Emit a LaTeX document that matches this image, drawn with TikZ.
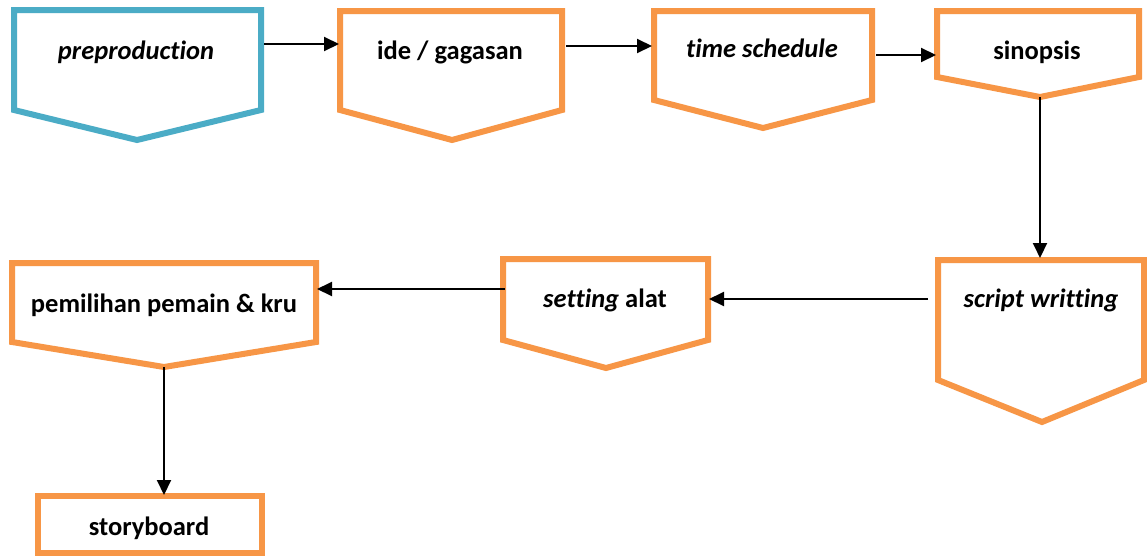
\documentclass[tikz,border=0pt]{standalone}
\usepackage{fontspec}
\setmainfont[RawFeature=-liga]{Carlito}
\usetikzlibrary{arrows.meta}
\definecolor{cblue}{HTML}{4BACC6}
\definecolor{corange}{HTML}{F79646}
\tikzset{
  box/.style={line width=6pt, line join=miter, draw=corange, fill=white},
  bluebox/.style={box, draw=cblue},
  lbl/.style={anchor=base, inner sep=0pt, font=\fontsize{26.5}{30}\selectfont\bfseries},
  conn/.style={line width=2pt, -{Triangle[length=15pt,width=14pt]}}
}
\begin{document}
\begin{tikzpicture}[x=1pt,y=-1pt]
\useasboundingbox (0,0) rectangle (1147,557);
% shapes
\draw[bluebox] (14,10) -- (261,10) -- (261,110) -- (137,140) -- (14,110) -- cycle;
\draw[box] (340,11) -- (562,11) -- (562,110) -- (452,140) -- (340,110) -- cycle;
\draw[box] (654,11) -- (872,11) -- (872,100) -- (763,128) -- (654,100) -- cycle;
\draw[box] (937,11) -- (1139,11) -- (1139,77) -- (1040,97) -- (937,77) -- cycle;
\draw[box] (938,260) -- (1144,260) -- (1144,380) -- (1042,422) -- (938,380) -- cycle;
\draw[box] (503,259) -- (708,259) -- (708,340) -- (606,368) -- (503,340) -- cycle;
\draw[box] (12,263) -- (316,263) -- (316,342) -- (164,367) -- (12,342) -- cycle;
\draw[box] (38,496) rectangle (262,553);
% labels
\node[lbl] (pre) at (136,59) {\itshape preproduction};
\node[lbl] (ide) at (450,59) {ide / gagasan};
\node[lbl] (time) at (762,57) {\itshape time schedule};
\node[lbl] (sin) at (1037,59) {sinopsis};
\node[lbl] (scr) at (1041,307) {\itshape script writting};
\node[lbl] (set) at (605,307) {\textit{setting} alat};
\node[lbl] (pem) at (164,312) {pemilihan pemain \& kru};
\node[lbl] (sto) at (149,535) {storyboard};
% connector end points
\coordinate (a1s) at (264,44); \coordinate (a1e) at (339,44);
\coordinate (a2s) at (566,46); \coordinate (a2e) at (652,46);
\coordinate (a3s) at (876,55); \coordinate (a3e) at (936,55);
\coordinate (a4s) at (1040,97); \coordinate (a4e) at (1040,258);
\coordinate (a5s) at (928,299); \coordinate (a5e) at (709,299);
\coordinate (a6s) at (505,289); \coordinate (a6e) at (317,289);
\coordinate (a7s) at (164,367); \coordinate (a7e) at (164,495);
\draw[conn] (a1s) -- (a1e);
\draw[conn] (a2s) -- (a2e);
\draw[conn] (a3s) -- (a3e);
\draw[conn] (a4s) -- (a4e);
\draw[conn] (a5s) -- (a5e);
\draw[conn] (a6s) -- (a6e);
\draw[conn] (a7s) -- (a7e);
\end{tikzpicture}
\end{document}
